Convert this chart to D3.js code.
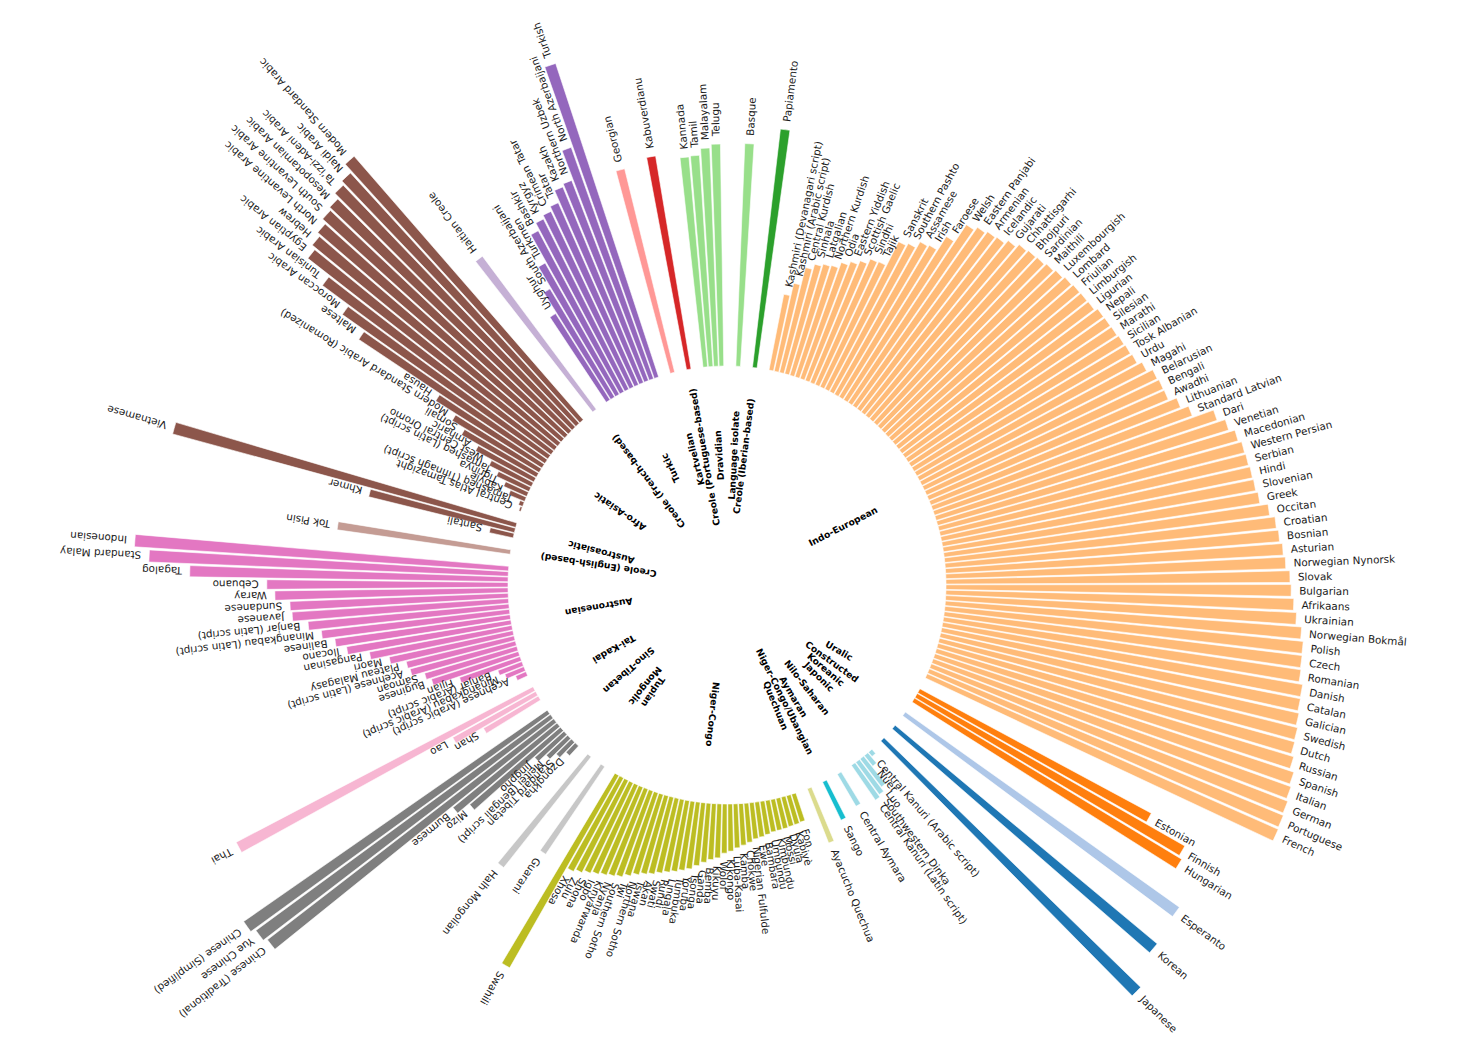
<!DOCTYPE html>
<html><head><meta charset="utf-8">
<script src="https://cdn.jsdelivr.net/npm/d3@7"></script>
<style>body{margin:0;background:#fff}svg{display:block}</style>
</head><body>
<svg id="chart" width="1464" height="1061"></svg>
<script>
// ---------- DATA (clockwise order, ascending within family) ----------
const familyNames = ["Indo-European","Uralic","Constructed","Koreanic","Japonic","Nilo-Saharan","Aymaran",
 "Niger-Congo/Ubangian","Quechuan","Niger-Congo","Tupian","Mongolic","Sino-Tibetan","Tai-Kadai","Austronesian",
 "Creole (English-based)","Austroasiatic","Afro-Asiatic","Creole (French-based)","Turkic","Kartvelian",
 "Creole (Portuguese-based)","Dravidian","Language isolate","Creole (Iberian-based)"];
const familyColors = ["#ffbb78","#ff7f0e","#aec7e8","#1f77b4","#1f77b4","#9edae5","#9edae5",
 "#17becf","#dbdb8d","#bcbd22","#c7c7c7","#c7c7c7","#7f7f7f","#f7b6d2","#e377c2",
 "#c49c94","#8c564b","#8c564b","#c5b0d5","#9467bd","#ff9896",
 "#d62728","#98df8a","#98df8a","#2ca02c"];

const langIndoEuropean = ["Kashmiri (Devanagari script)","Kashmiri (Arabic script)","Central Kurdish","Sinhala","Latgalian",
 "Northern Kurdish","Odia","Eastern Yiddish","Scottish Gaelic","Sindhi","Tajik","Sanskrit","Southern Pashto","Assamese",
 "Irish","Faroese","Welsh","Eastern Panjabi","Armenian","Icelandic","Gujarati","Chhattisgarhi","Bhojpuri","Sardinian",
 "Maithili","Luxembourgish","Lombard","Friulian","Limburgish","Ligurian","Nepali","Silesian","Marathi","Sicilian",
 "Tosk Albanian","Urdu","Magahi","Belarusian","Bengali","Awadhi","Lithuanian","Standard Latvian","Dari","Venetian",
 "Macedonian","Western Persian","Serbian","Hindi","Slovenian","Greek","Occitan","Croatian","Bosnian","Asturian",
 "Norwegian Nynorsk","Slovak","Bulgarian","Afrikaans","Ukrainian","Norwegian Bokmål","Polish","Czech","Romanian",
 "Danish","Catalan","Galician","Swedish","Dutch","Russian","Spanish","Italian","German","Portuguese","French"];
const valIndoEuropean = [19.3,22.5,27,28.4,29,29.3,30.8,31.8,32.9,34.3,34.5,41.2,41.9,43.7,
 44.1,48.2,53.4,54.4,55,55.3,56.4,57.4,57.8,58,
 58.5,59,59.5,59.8,59.9,60,60.8,60.9,61,61.3,
 61.5,61.8,63,64.5,64.8,64.9,67,69,74.5,76.5,
 78,78.8,79,79.3,79.5,80,82,83.3,83.8,84.5,
 85,86,86.3,87,87.8,89.3,90,90.1,90.3,
 91.3,91.4,91.8,92.3,92.5,93.3,94.5,95,95.5,95.8,96];

const langUralic = ["Estonian","Finnish","Hungarian"];
const valUralic = [65.7,77,78];
const langConstructed = ["Esperanto"];
const valConstructed = [84.1];
const langKoreanic = ["Korean"];
const valKoreanic = [85.3];
const langJaponic = ["Japanese"];
const valJaponic = [89.5];
const langNiloSaharan = ["Central Kanuri (Arabic script)","Nuer","Luo","Southwestern Dinka","Central Kanuri (Latin script)"];
const valNiloSaharan = [1.4,3.4,8.8,10,10.6];
const langAymaran = ["Central Aymara"];
const valAymaran = [9.3];
const langUbangian = ["Sango"];
const valUbangian = [10.6];
const langQuechuan = ["Ayacucho Quechua"];
const valQuechuan = [14.6];
const langNigerCongo = ["Fon","Kabiyè","Dyula","Mossi","Kimbundu","Umbundu","Bambara","Ewe","Nigerian Fulfulde",
 "Chokwe","Kamba","Luba-Kasai","Kikongo","Wolof","Kikuyu","Bemba","Ganda","Tsonga","Yoruba","Tumbuka","Lingala",
 "Rundi","Swati","Akan","Tswana","Northern Sotho","Twi","Southern Sotho","Nyanja","Kinyarwanda","Igbo","Shona",
 "Zulu","Xhosa","Swahili"];
const valNigerCongo = [7.3,7.5,7.6,7.8,7.9,8,8.4,8.8,9.1,
 9.8,10.4,11,11.8,12.3,13.5,14,14.8,15.8,16.8,17.4,18,
 18.5,19.1,19.8,20.3,21,21.9,22.8,23.3,23.8,24.4,25,
 25.8,26.5,55.3];
const langTupian = ["Guarani"];
const valTupian = [26.4];
const langMongolic = ["Halh Mongolian"];
const valMongolic = [35.3];
const langSinoTibetan = ["Dzongkha","Standard Tibetan","Meitei (Bengali script)","Jingpho","Mizo","Burmese",
 "Chinese (Traditional)","Yue Chinese","Chinese (Simplified)"];
const valSinoTibetan = [3.3,5.3,7.3,9.8,29.8,33.5,90.4,91.3,92.5];
const langTaiKadai = ["Shan","Lao","Thai"];
const valTaiKadai = [15.9,23.7,83.8];
const langAustronesian = ["Acehnese (Arabic script)","Minangkabau (Arabic script)","Banjar (Arabic script)","Fijian",
 "Buginese","Samoan","Acehnese (Latin script)","Plateau Malagasy","Maori","Pangasinan","Ilocano","Balinese",
 "Minangkabau (Latin script)","Banjar (Latin script)","Javanese","Sundanese","Waray","Cebuano","Tagalog",
 "Standard Malay","Indonesian"];
const valAustronesian = [2.8,5.1,6.4,16,22.8,24,27.2,27.7,31.6,36.2,41.6,44.2,
 47.3,50.4,54.2,54.6,58.3,60.3,79.6,89.9,93.7];
const langCreoleEnglish = ["Tok Pisin"];
const valCreoleEnglish = [43.7];
const langAustroasiatic = ["Santali","Khmer","Vietnamese"];
const valAustroasiatic = [6.1,37.5,88.9];
const langAfroAsiatic = ["Central Atlas Tamazight","Tamasheq (Tifinagh script)","Kabyle","Tigrinya",
 "Tamasheq (Latin script)","West Central Oromo","Amharic","Somali","Modern Standard Arabic (Romanized)","Hausa",
 "Maltese","Moroccan Arabic","Tunisian Arabic","Egyptian Arabic","Hebrew","North Levantine Arabic",
 "South Levantine Arabic","Mesopotamian Arabic","Ta’izzi-Adeni Arabic","Najdi Arabic","Modern Standard Arabic"];
const valAfroAsiatic = [0.5,1.1,4.3,6.3,9,11.8,16.5,21.5,25.3,31.4,
 55.9,62.8,71.1,78.1,79.3,80.3,81.6,82.3,83.8,84.8,87.3];
const langCreoleFrench = ["Haitian Creole"];
const valCreoleFrench = [47.7];
const langTurkic = ["Uyghur","South Azerbaijani","Turkmen","Bashkir","Kyrgyz","Crimean Tatar","Tatar","Kazakh",
 "Northern Uzbek","North Azerbaijani","Turkish"];
const valTurkic = [25.5,31.5,37.7,45.6,47.6,48.5,49.7,52.9,53.6,61.4,82.5];
const langKartvelian = ["Georgian"];
const valKartvelian = [52.4];
const langCreolePortuguese = ["Kabuverdianu"];
const valCreolePortuguese = [54];
const langDravidian = ["Kannada","Tamil","Malayalam","Telugu"];
const valDravidian = [52.7,52.9,54.6,55.5];
const langIsolate = ["Basque"];
const valIsolate = [55.7];
const langCreoleIberian = ["Papiamento"];
const valCreoleIberian = [60];

const familyLangs = [langIndoEuropean,langUralic,langConstructed,langKoreanic,langJaponic,langNiloSaharan,langAymaran,
 langUbangian,langQuechuan,langNigerCongo,langTupian,langMongolic,langSinoTibetan,langTaiKadai,langAustronesian,
 langCreoleEnglish,langAustroasiatic,langAfroAsiatic,langCreoleFrench,langTurkic,langKartvelian,
 langCreolePortuguese,langDravidian,langIsolate,langCreoleIberian];
const familyVals = [valIndoEuropean,valUralic,valConstructed,valKoreanic,valJaponic,valNiloSaharan,valAymaran,
 valUbangian,valQuechuan,valNigerCongo,valTupian,valMongolic,valSinoTibetan,valTaiKadai,valAustronesian,
 valCreoleEnglish,valAustroasiatic,valAfroAsiatic,valCreoleFrench,valTurkic,valKartvelian,
 valCreolePortuguese,valDravidian,valIsolate,valCreoleIberian];

// ---------- BUILD TABLE ----------
const GAP = 2.1; // empty slots between families
const rows = [];
let k = 0;
familyNames.forEach((f, fi) => {
  familyLangs[fi].forEach((l, li) => {
    rows.push({lang: l, value: familyVals[fi][li], fam: f, fi, pos: k + fi * GAP});
    k++;
  });
});
const totalSlots = k + familyNames.length * GAP;

// ---------- LAYOUT ----------
const W = 1464, H = 1061, cx = 727, cy = 585;
const R0 = 219;
const startDeg = 11.65;
const angle = d3.scaleLinear().domain([0, totalSlots]).range([startDeg * Math.PI / 180, (startDeg + 360) * Math.PI / 180]);
const radius = d3.scaleLinear().domain([0, 100]).range([R0, R0 + 400]);
const halfW = 1.2 / 2 * Math.PI / 180;

const svg = d3.select("#chart");
svg.append("rect").attr("width", W).attr("height", H).attr("fill", "#fff");
const g = svg.append("g").attr("transform", `translate(${cx},${cy})`);

const arc = d3.arc()
  .innerRadius(R0)
  .outerRadius(d => radius(d.value))
  .startAngle(d => angle(d.pos) - halfW)
  .endAngle(d => angle(d.pos) + halfW);

g.selectAll("path.bar").data(rows).join("path")
  .attr("class", "bar")
  .attr("d", arc)
  .attr("fill", d => familyColors[d.fi])
  .attr("stroke", "#fff")
  .attr("stroke-width", 0.6);

const toDeg = a => a * 180 / Math.PI;
g.selectAll("text.lab").data(rows).join("text")
  .attr("class", "lab")
  .attr("transform", d => {
    const a = angle(d.pos);
    const [x, y] = d3.pointRadial(a, radius(d.value) + 8);
    return `translate(${x},${y}) rotate(${toDeg(a) - 90})`;
  })
  .attr("text-anchor", "start")
  .attr("dominant-baseline", "central")
  .attr("font-family", "DejaVu Sans, sans-serif")
  .attr("font-size", 10.4)
  .attr("fill", "#1a1a1a")
  .text(d => d.lang);

// family labels at mean angle
const famData = familyNames.map((f, fi) => {
  const r = rows.filter(d => d.fi === fi);
  return {name: f, a: d3.mean(r, d => angle(d.pos))};
});
g.selectAll("text.fam").data(famData).join("text")
  .attr("class", "fam")
  .attr("transform", d => {
    const [x, y] = d3.pointRadial(d.a, 130);
    return `translate(${x},${y}) rotate(${toDeg(d.a) - 90})`;
  })
  .attr("text-anchor", "middle")
  .attr("dominant-baseline", "central")
  .attr("font-family", "DejaVu Sans, sans-serif")
  .attr("font-weight", "bold")
  .attr("font-size", 9.2)
  .attr("fill", "#000")
  .text(d => d.name);
</script>
</body></html>
